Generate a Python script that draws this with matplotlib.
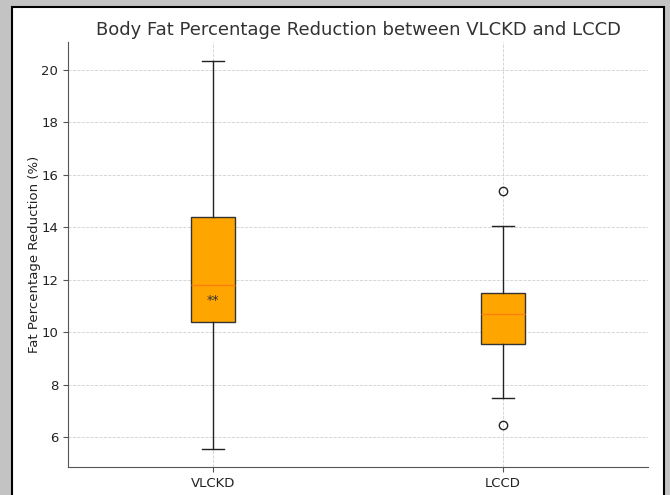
import matplotlib
matplotlib.use("Agg")
import matplotlib.pyplot as plt
from matplotlib.patches import Rectangle

# values
groups = ["VLCKD", "LCCD"]
q1 = [10.4, 9.55]
med = [11.8, 10.7]
q3 = [14.4, 11.5]
whislo = [5.55, 7.5]
whishi = [20.33, 14.05]
fliers = [[], [15.4, 6.45]]
annot = ["**", ""]
annot_y = [11.2, None]

fig = plt.figure(figsize=(6.7, 4.95), dpi=100)
fig.patch.set_facecolor("#c3c3c3")
# screenshot frame
fig.patches.append(Rectangle((12, -5), 652, 495 - 7 + 5, transform=None,
                             facecolor="white", edgecolor="black", lw=1.5,
                             zorder=-1))

ax = fig.add_axes([68 / 670, 28 / 495, 580 / 670, 425 / 495])
ax.set_facecolor("none")

stats = []
for i, g in enumerate(groups):
    stats.append(dict(label=g, q1=q1[i], med=med[i], q3=q3[i],
                      whislo=whislo[i], whishi=whishi[i], fliers=fliers[i]))

ax.bxp(stats, positions=[1, 2], widths=0.15, patch_artist=True,
       boxprops=dict(facecolor="orange", edgecolor="#333333", linewidth=1),
       medianprops=dict(color="#ff7f0e", linewidth=1),
       whiskerprops=dict(color="#222222", linewidth=1),
       capprops=dict(color="#222222", linewidth=1),
       flierprops=dict(marker="o", markerfacecolor="none",
                       markeredgecolor="#222222", markersize=6))

for i, a in enumerate(annot):
    if a:
        ax.text(i + 1, annot_y[i], a, ha="center", va="center",
                fontsize=9, color="#333333")

ax.set_xlim(0.5, 2.5)
ax.set_ylim(4.86, 21.07)
ax.set_yticks([6, 8, 10, 12, 14, 16, 18, 20])
ax.grid(True, linestyle="--", linewidth=0.6, color="#d0d0d0")
ax.set_axisbelow(True)
for s in ["top", "right"]:
    ax.spines[s].set_visible(False)
for s in ["left", "bottom"]:
    ax.spines[s].set_color("#555555")
ax.tick_params(colors="#555555", labelcolor="#222222", labelsize=9.5)

ax.set_title("Body Fat Percentage Reduction between VLCKD and LCCD",
             fontsize=13, color="#333333", pad=5)
ax.set_ylabel("Fat Percentage Reduction (%)", fontsize=9.5, color="#222222",
              labelpad=0)

fig.savefig("out.png", dpi=100, facecolor=fig.get_facecolor())
